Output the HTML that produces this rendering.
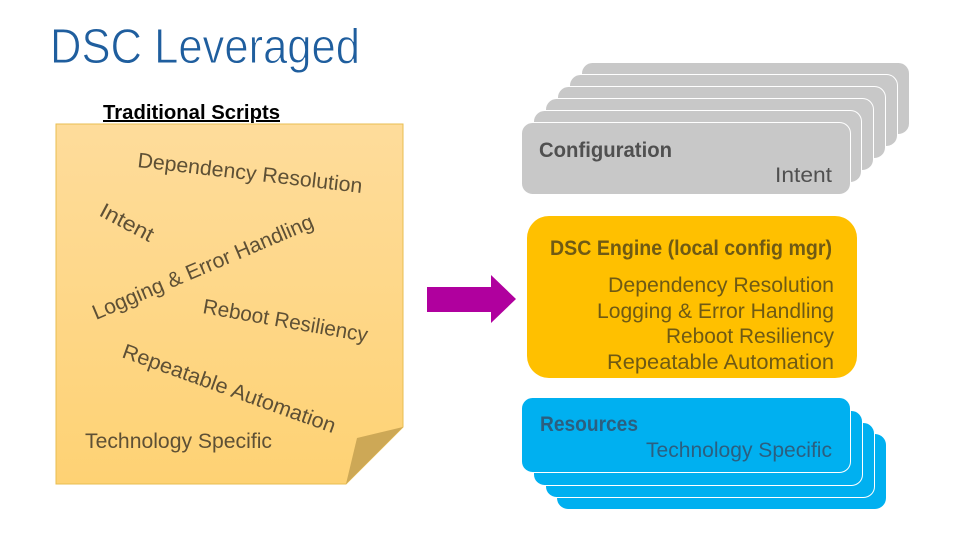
<!DOCTYPE html>
<html><head><meta charset="utf-8"><style>html,body{margin:0;padding:0;background:#fff}svg{display:block}text{font-family:"Liberation Sans",sans-serif}</style></head>
<body><svg width="960" height="540" viewBox="0 0 960 540" xmlns="http://www.w3.org/2000/svg">
<defs><linearGradient id="n" x1="0" y1="0" x2="0" y2="1"><stop offset="0" stop-color="#FEDC9B"/><stop offset="1" stop-color="#FED274"/></linearGradient></defs>
<text x="50" y="63" font-size="49" fill="#1F5E9E" stroke="#fff" stroke-width="0.9" paint-order="normal" textLength="310" lengthAdjust="spacingAndGlyphs">DSC Leveraged</text>
<text x="103" y="119" font-size="20" font-weight="bold" fill="#000" text-decoration="underline" textLength="177" lengthAdjust="spacingAndGlyphs">Traditional Scripts</text>
<polygon points="56,124 403,124 403,427 346,484 56,484" fill="url(#n)" stroke="#E8BE50" stroke-width="1"/>
<polygon points="346,484 357,438 403,427" fill="#CDA856"/>
<g fill="#5E5035" font-size="21">
<text transform="translate(137,167) rotate(6.6)" textLength="226" lengthAdjust="spacingAndGlyphs">Dependency Resolution</text>
<text transform="translate(98,215) rotate(28)" textLength="58" lengthAdjust="spacingAndGlyphs">Intent</text>
<text transform="translate(96,320) rotate(-23)" textLength="238" lengthAdjust="spacingAndGlyphs">Logging &amp; Error Handling</text>
<text transform="translate(202,313) rotate(10)" textLength="167" lengthAdjust="spacingAndGlyphs">Reboot Resiliency</text>
<text transform="translate(121,357) rotate(19.8)" textLength="225" lengthAdjust="spacingAndGlyphs">Repeatable Automation</text>
<text x="85" y="448" textLength="187" lengthAdjust="spacingAndGlyphs">Technology Specific</text>
</g>
<polygon points="427,287 491,287 491,275 516,299 491,323 491,312 427,312" fill="#B0009E"/>
<g fill="#C8C8C8" stroke="#fff" stroke-width="1">
<rect x="581.500" y="62.500" width="328" height="72" rx="11"/>
<rect x="569.500" y="74.500" width="328" height="72" rx="11"/>
<rect x="557.500" y="86.500" width="328" height="72" rx="11"/>
<rect x="545.500" y="98.500" width="328" height="72" rx="11"/>
<rect x="533.500" y="110.500" width="328" height="72" rx="11"/>
<rect x="521.500" y="122.500" width="329" height="72" rx="11"/>
</g>
<text x="539" y="157" font-size="21" font-weight="bold" fill="#505050" textLength="133" lengthAdjust="spacingAndGlyphs">Configuration</text>
<text x="775" y="182" font-size="21" fill="#505050" textLength="57" lengthAdjust="spacingAndGlyphs">Intent</text>
<rect x="527" y="216" width="330" height="162" rx="22" fill="#FFC000"/>
<g fill="#6F5A14" font-size="21">
<text x="550" y="255" font-weight="bold" textLength="282" lengthAdjust="spacingAndGlyphs">DSC Engine (local config mgr)</text>
<text x="608" y="292" textLength="226" lengthAdjust="spacingAndGlyphs">Dependency Resolution</text>
<text x="597" y="318" textLength="237" lengthAdjust="spacingAndGlyphs">Logging &amp; Error Handling</text>
<text x="666" y="343" textLength="168" lengthAdjust="spacingAndGlyphs">Reboot Resiliency</text>
<text x="607" y="369" textLength="227" lengthAdjust="spacingAndGlyphs">Repeatable Automation</text>
</g>
<g fill="#00B0F0" stroke="#fff" stroke-width="1">
<rect x="557" y="434" width="329" height="75" rx="11" stroke="none"/>
<rect x="545.500" y="422.500" width="329" height="75" rx="11"/>
<rect x="533.500" y="410.500" width="329" height="75" rx="11"/>
<rect x="521.500" y="397.500" width="329" height="75" rx="11"/>
</g>
<text x="540" y="431" font-size="21" font-weight="bold" fill="#2B5F80" textLength="98" lengthAdjust="spacingAndGlyphs">Resources</text>
<text x="646" y="457" font-size="21" fill="#2B5F80" textLength="186" lengthAdjust="spacingAndGlyphs">Technology Specific</text>
</svg></body></html>
